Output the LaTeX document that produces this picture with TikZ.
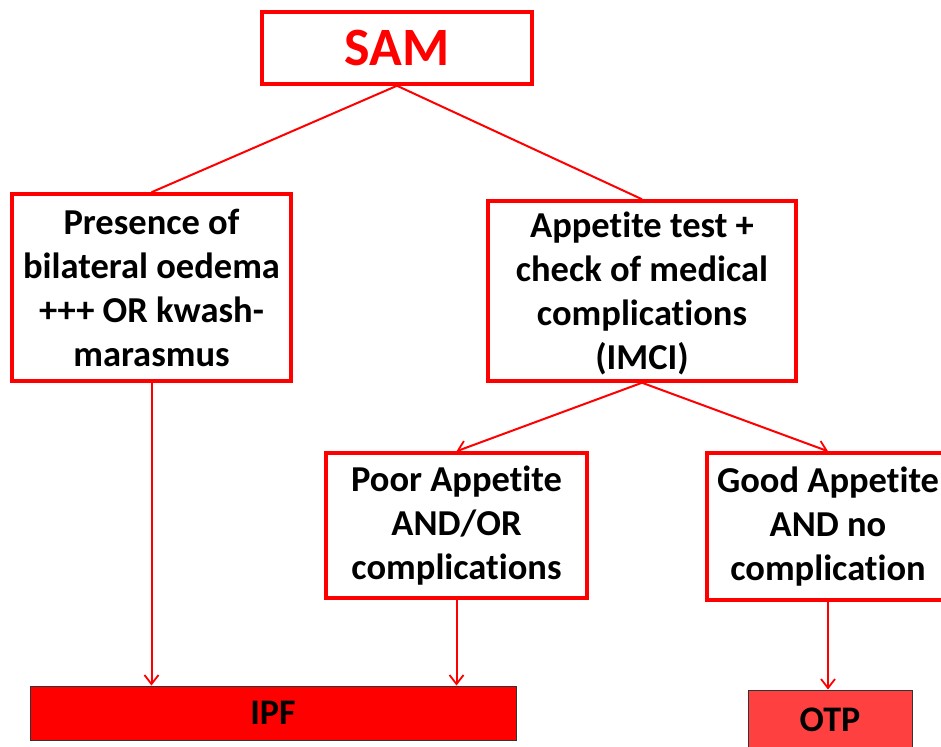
\documentclass[tikz,border=0pt]{standalone}
\usepackage{fontspec}
\setmainfont[Ligatures=NoCommon]{Carlito}
\usetikzlibrary{arrows.meta}

\tikzset{
    redbox/.style={draw=red, line width=3.5pt, fill=white, align=center,
        inner sep=0pt, font=\fontsize{36.5}{44}\selectfont\bfseries},
    endbox/.style={draw=black!80, line width=1pt, align=center, inner sep=0pt,
        font=\fontsize{36}{40}\selectfont\bfseries},
    link/.style={draw=red, line width=2pt},
    flow/.style={link, -{Straight Barb[length=9pt, width=14pt, line width=1.8pt]}}
}

\begin{document}
\begin{tikzpicture}[x=1pt, y=-1pt]
    \useasboundingbox (0,0) rectangle (941,746);
    \clip (0,0) rectangle (941,746);
    \node[redbox, minimum width=270pt, minimum height=72pt, text=red,
        font=\fontsize{54}{60}\selectfont\bfseries] (sam) at (397,48) {SAM};
    \node[redbox, minimum width=279pt, minimum height=187pt] (oedema) at (151.5,287.5)
        {Presence of\\bilateral oedema\\+++ OR kwash-\\marasmus};
    \node[redbox, minimum width=308pt, minimum height=180pt, text depth=-6pt] (appetite) at (642,291)
        {Appetite test +\\check of medical\\complications\\(IMCI)};
    \node[redbox, minimum width=261pt, minimum height=145pt] (poor) at (456.5,525.5)
        {Poor Appetite\\AND/OR\\complications};
    \node[redbox, minimum width=242pt, minimum height=147pt] (good) at (828,526.5)
        {Good Appetite\\AND no\\complication};
    \node[endbox, fill=red, minimum width=486pt, minimum height=54pt] (ipf) at (273,713) {IPF};
    \node[endbox, fill=red!75!white, minimum width=164pt, minimum height=60pt] (otp) at (830,720) {OTP};
    \path[link] (sam.south) -- (oedema.north);
    \path[link] (sam.south) -- (appetite.north);
    \path[flow] (appetite.south) -- (poor.north);
    \path[flow] (appetite.south) -- (good.north);
    \path[flow] (oedema.south) -- (oedema.south |- ipf.north);
    \path[flow] (poor.south) -- (poor.south |- ipf.north);
    \path[flow] (good.south) -- (good.south |- otp.north);
\end{tikzpicture}
\end{document}
